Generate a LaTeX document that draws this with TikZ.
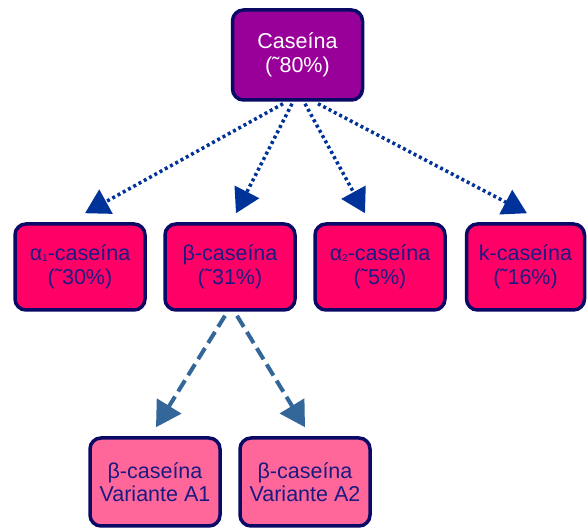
\documentclass[tikz,border=0pt]{standalone}
\usepackage{fontspec}
\setmainfont{Liberation Sans}
\usetikzlibrary{arrows.meta,calc}
\definecolor{navy}{HTML}{0A0A66}
\definecolor{txtnavy}{HTML}{1A1A80}
\definecolor{topfill}{HTML}{990099}
\definecolor{midfill}{HTML}{FF0066}
\definecolor{lowfill}{HTML}{FF6699}
\definecolor{dotblue}{HTML}{003399}
\definecolor{dashblue}{HTML}{336699}
\newcommand{\sbs}[1]{\raisebox{-0.5pt}{\fontsize{10}{10}\selectfont #1}}
\newcommand{\tld}{{\char"02DC\relax}}
\tikzset{
  box/.style={draw=navy, line width=3.5pt, rounded corners=11pt, align=center,
    font=\fontsize{21.5}{23.5}\selectfont, text=txtnavy, inner sep=0pt},
  topbox/.style={box, fill=topfill, text=white, minimum width=130pt, minimum height=90pt},
  midbox/.style={box, fill=midfill, minimum width=130pt, minimum height=86pt},
  lowbox/.style={box, fill=lowfill, minimum width=130pt, minimum height=88pt},
  dotarrow/.style={draw=dotblue, line width=3.5pt, dash pattern=on 3pt off 3pt,
    -{Triangle[length=24pt,width=27pt,fill=dotblue]}},
  dasharrow/.style={draw=dashblue, line width=4pt, dash pattern=on 13pt off 6pt,
    -{Triangle[length=25pt,width=28pt,fill=dashblue]}}
}
\begin{document}
\begin{tikzpicture}[x=1pt,y=1pt]
\useasboundingbox[fill=white] (0,0) rectangle (588,529);
\node[topbox] (top) at (297.5,474) {Caseína\\(\tld 80\%)};
\node[midbox] (a1) at (80,262) {α\sbs{1}-caseína\\(\tld 30\%)};
\node[midbox] (b) at (230,262) {β-caseína\\(\tld 31\%)};
\node[midbox] (a2) at (380,262) {α\sbs{2}-caseína\\(\tld 5\%)};
\node[midbox, minimum width=118pt] (k) at (525.5,262) {k-caseína\\(\tld 16\%)};
\node[lowbox] (v1) at (155,47) {β-caseína\\Variante A1};
\node[lowbox] (v2) at (305,47) {β-caseína\\Variante A2};
\draw[dotarrow] ($(top.south)+(-14.5,-2)$) -- ($(a1.north)+(5,9)$);
\draw[dotarrow] ($(top.south)+(-5.5,-2)$) -- ($(b.north)+(6,9)$);
\draw[dotarrow] ($(top.south)+(7.5,-2)$) -- ($(a2.north)+(-15,9)$);
\draw[dotarrow] ($(top.south)+(20.5,-2)$) -- ($(k.north)+(1.5,9)$);
\draw[dasharrow] ($(b.south)+(-5,-4)$) -- ($(v1.north)+(1,9)$);
\draw[dasharrow] ($(b.south)+(7,-4)$) -- ($(v2.north)+(0,9)$);
\end{tikzpicture}
\end{document}
